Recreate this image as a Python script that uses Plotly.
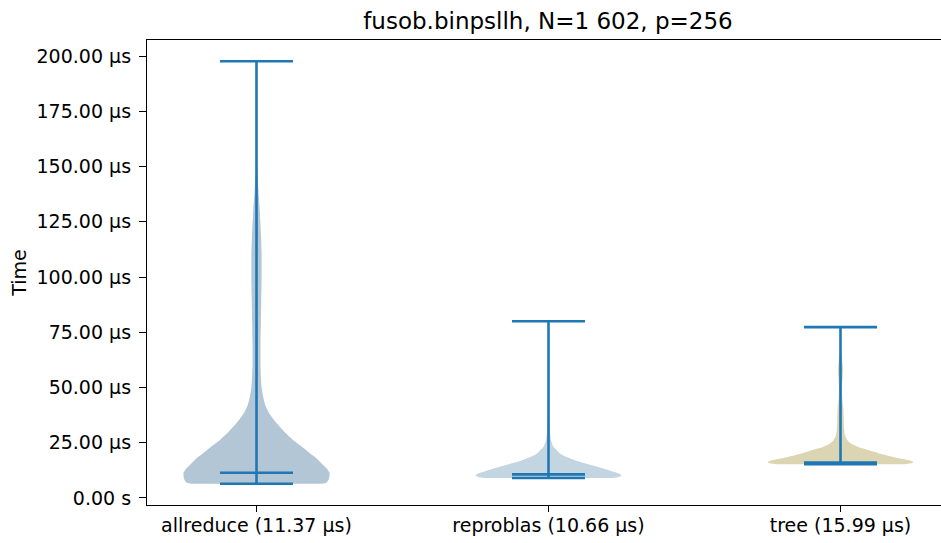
import plotly.graph_objects as go

# ---------------- data (times in microseconds) ----------------
categories = ["allreduce", "reproblas", "tree"]
medians = [11.37, 10.66, 15.99]
mins = [6.4, 9.0, 15.3]
maxs = [197.7, 80.0, 77.3]

# violin density profiles (time in µs, relative density normalised to 1)
allreduce_t = [6.4, 7.0, 8.5, 10.0, 11.5, 13.0, 15.0, 18.0, 20.0, 22.7, 26.0, 30.0, 34.0, 38.0,
               42.0, 46.0, 50.0, 55.0, 60.0, 70.0, 80.0, 90.0, 100.0, 110.0, 120.0, 130.0, 140.0,
               150.0, 170.0, 197.7]
allreduce_d = [0.90, 0.96, 0.99, 1.0, 1.0, 0.97, 0.91, 0.82, 0.74, 0.64, 0.51, 0.38, 0.27, 0.18,
               0.12, 0.09, 0.07, 0.06, 0.055, 0.055, 0.06, 0.065, 0.07, 0.07, 0.06, 0.045, 0.025,
               0.008, 0.003, 0.0]

reproblas_t = [9.0, 9.5, 10.2, 11.0, 12.0, 13.8, 15.0, 16.8, 18.5, 20.0, 22.0, 23.0, 26.0, 30.0,
               40.0, 50.0, 60.0, 70.0, 80.0]
reproblas_d = [0.86, 0.96, 1.0, 0.97, 0.88, 0.70, 0.57, 0.38, 0.25, 0.16, 0.10, 0.07, 0.035, 0.02,
               0.012, 0.008, 0.006, 0.004, 0.0]

tree_t = [15.3, 15.8, 16.3, 17.0, 18.0, 19.8, 21.5, 22.9, 24.5, 25.9, 28.0, 31.0, 35.0, 40.0,
          45.0, 50.0, 55.0, 58.0, 62.0, 66.0, 70.0, 77.3]
tree_d = [0.88, 0.98, 1.0, 0.95, 0.80, 0.57, 0.40, 0.25, 0.15, 0.10, 0.065, 0.05, 0.045, 0.04,
          0.025, 0.02, 0.03, 0.035, 0.025, 0.008, 0.003, 0.0]

profiles = [(allreduce_t, allreduce_d), (reproblas_t, reproblas_d), (tree_t, tree_d)]

y_tick_vals = [0, 25, 50, 75, 100, 125, 150, 175, 200]
y_tick_text = ["0.00 s"] + [f"{v:.2f} µs" for v in y_tick_vals[1:]]

# ---------------- styling ----------------
fill_colors = ["#b3c6d5", "#c2d5e1", "#dcd5b4"]
line_color = "#1f77b4"
positions = [1, 2, 3]
half_width = 0.25
bar_half = 0.125
FONT = "DejaVu Sans, Verdana, sans-serif"
TICK_SIZE = 19
TITLE_SIZE = 23

fig = go.Figure()

for pos, (t, d), fc in zip(positions, profiles, fill_colors):
    xs = [pos + half_width * v for v in d] + [pos - half_width * v for v in reversed(d)]
    ys = list(t) + list(reversed(t))
    fig.add_trace(go.Scatter(x=xs, y=ys, mode="lines", fill="toself", fillcolor=fc,
                             line=dict(width=0, color=fc, shape="spline", smoothing=0.5),
                             hoverinfo="skip", showlegend=False))

# vertical range lines
for pos, lo, hi in zip(positions, mins, maxs):
    fig.add_trace(go.Scatter(x=[pos, pos], y=[lo, hi], mode="lines",
                             line=dict(color=line_color, width=2.6), showlegend=False))
# horizontal bars: min, max, median
for arr in (mins, maxs, medians):
    for pos, v in zip(positions, arr):
        fig.add_trace(go.Scatter(x=[pos - bar_half, pos + bar_half], y=[v, v], mode="lines",
                                 line=dict(color=line_color, width=2.6), showlegend=False))

fig.update_layout(
    width=941, height=543,
    margin=dict(l=147, r=0, t=40, b=38),
    paper_bgcolor="white", plot_bgcolor="white",
    font=dict(family=FONT, size=TICK_SIZE, color="black"),
    title=dict(text="fusob.binpsllh, N=1 602, p=256", x=548 / 941, xref="container",
               xanchor="center", y=1 - 21 / 543, yref="container", yanchor="middle",
               font=dict(family=FONT, size=TITLE_SIZE, color="black")),
    xaxis=dict(range=[0.625, 0.625 + 794 / 292], tickvals=positions,
               ticktext=[f"{c} ({m:.2f} µs)" for c, m in zip(categories, medians)],
               showline=True, linecolor="black", linewidth=1.3, mirror=True,
               ticks="outside", ticklen=6, tickcolor="black", tickwidth=1.3,
               ticklabelstandoff=-3,
               showgrid=False, zeroline=False, tickfont=dict(size=TICK_SIZE)),
    yaxis=dict(range=[-3.2, 207.3], tickvals=y_tick_vals, ticktext=y_tick_text,
               showline=True, linecolor="black", linewidth=1.3,
               ticks="outside", ticklen=7, tickcolor="black", tickwidth=1.3,
               ticklabelstandoff=4,
               showgrid=False, zeroline=False, tickfont=dict(size=TICK_SIZE),
               title=dict(text="Time", font=dict(size=TICK_SIZE), standoff=4)),
)

fig.write_html("out.html")
